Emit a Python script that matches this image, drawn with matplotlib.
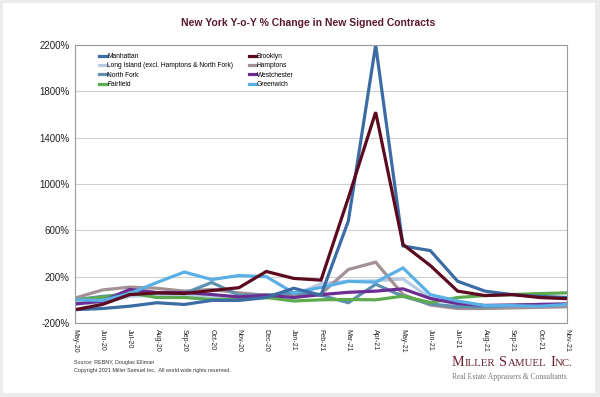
import matplotlib
matplotlib.use("Agg")
import matplotlib.pyplot as plt
from matplotlib.patches import Rectangle
from matplotlib.ticker import FuncFormatter

plt.rcParams['font.family'] = ['Liberation Sans', 'DejaVu Sans']

# months on the x axis
months = ['May-20', 'Jun-20', 'Jul-20', 'Aug-20', 'Sep-20', 'Oct-20', 'Nov-20',
          'Dec-20', 'Jan-21', 'Feb-21', 'Mar-21', 'Apr-21', 'May-21', 'Jun-21',
          'Jul-21', 'Aug-21', 'Sep-21', 'Oct-21', 'Nov-21']

# y-o-y % change
manhattan   = [-85, -75, -55, -25, -40, -5, -5, 20, 100, 40, 680, 2200, 465, 425, 160, 75, 45, 30, 20]
brooklyn    = [-85, -40, 45, 60, 55, 80, 105, 245, 185, 170, 880, 1620, 478, 296, 75, 37, 45, 20, 10]
long_island = [-40, -20, 30, 40, 40, 30, 30, 40, 40, 140, 160, 165, 180, 15, -40, -50, -45, -40, -40]
hamptons    = [15, 85, 110, 100, 75, 90, 60, 40, 30, 50, 262, 325, 46, -45, -75, -75, -70, -65, -60]
north_fork  = [0, 30, 50, 60, 55, 150, 40, 40, 60, 40, -25, 135, 30, -35, -60, -60, -50, -40, -40]
westchester = [-35, -12, 90, 63, 63, 46, 25, 40, 20, 45, 65, 75, 95, 12, -32, -48, -45, -40, -35]
fairfield   = [0, 20, 60, 20, 20, 3, 5, 20, -10, 0, 3, 0, 32, -23, 20, 37, 46, 54, 60]
greenwich   = [0, -5, 55, 150, 240, 175, 210, 200, 60, 107, 160, 152, 275, 45, -10, -50, -50, -55, -40]

series = [
    ('Manhattan', manhattan, '#3B6CA3'),
    ('Long Island (excl. Hamptons & North Fork)', long_island, '#B8CDE3'),
    ('North Fork', north_fork, '#5E90B0'),
    ('Fairfield', fairfield, '#5CAB4E'),
    ('Brooklyn', brooklyn, '#5C0A1F'),
    ('Hamptons', hamptons, '#A39194'),
    ('Westchester', westchester, '#6B2D92'),
    ('Greenwich', greenwich, '#5AB0E6'),
]
draw_order = [1, 5, 2, 3, 6, 7, 0, 4]

fig = plt.figure(figsize=(6, 3.97), dpi=100, facecolor='#EBEBEB')
card = Rectangle((3 / 600, 4 / 397), 592 / 600, 390 / 397,
                 transform=fig.transFigure, facecolor='white',
                 edgecolor='none', zorder=-10)
fig.patches.append(card)

ax = fig.add_axes([75 / 600, 1 - 323 / 397, 492 / 600, 278 / 397])
ax.set_facecolor('white')
ax.set_zorder(1)

x = list(range(len(months)))
handles = {}
for i in draw_order:
    name, vals, col = series[i]
    ln, = ax.plot(x, vals, color=col, lw=2.3, label=name, solid_joinstyle='miter')
    handles[i] = ln

ax.set_xlim(0, len(months) - 1)
ax.set_ylim(-200, 2200)
ax.set_yticks(range(-200, 2201, 400))
ax.yaxis.set_major_formatter(FuncFormatter(lambda v, p: '%d%%' % v))
ax.set_xticks(x)
ax.set_xticklabels(months, rotation=270, fontsize=5, color='#222222')
ax.tick_params(axis='y', labelsize=7, length=0, pad=4, labelcolor='#222222')
ax.tick_params(axis='x', length=0, pad=4)
ax.grid(axis='y', color='#CFCFCF', lw=0.8)
ax.set_axisbelow(True)
for s in ax.spines.values():
    s.set_color('#9A9A9A')
    s.set_linewidth(0.8)

leg = ax.legend([handles[i] for i in range(8)], [series[i][0] for i in range(8)],
                ncol=2, loc='upper left', bbox_to_anchor=(0.04, 0.988),
                frameon=False, fontsize=4.8, handlelength=1.1, handletextpad=0.1,
                columnspacing=2.3, labelspacing=0.35, borderaxespad=0.3)

fig.text(308 / 600, 1 - 23 / 397, 'New York Y-o-Y % Change in New Signed Contracts',
         ha='center', va='center', fontsize=7.5, fontweight='bold', color='#5B1A2C')

fig.text(74 / 600, 1 - 362.5 / 397, 'Source: REBNY, Douglas Elliman',
         fontsize=3.9, va='center', color='#333333')
fig.text(74 / 600, 1 - 370.5 / 397,
         'Copyright 2021 Miller Samuel Inc.  All world wide rights reserved.',
         fontsize=3.9, va='center', color='#333333')

# logo in small caps, built piece by piece
renderer = fig.canvas.get_renderer()
logo_parts = [('M', 10.2), ('ILLER', 7.8), (' ', 0), ('S', 10.2), ('AMUEL', 7.8),
              (' ', 0), ('I', 10.2), ('NC.', 7.8)]
xpos = 452
for txt, fs in logo_parts:
    if txt == ' ':
        xpos += 3.5
        continue
    t = fig.text(xpos / 600, 1 - 366 / 397, txt, ha='left', va='baseline',
                 fontsize=fs, family='Liberation Serif', color='#6B2232')
    xpos = t.get_window_extent(renderer).x1 + 0.3
fig.text(452 / 600, 1 - 377 / 397, 'Real Estate Appraisers & Consultants',
         ha='left', va='center', fontsize=5.5, family='Liberation Serif',
         color='#777777')

fig.savefig('out.png', dpi=100, facecolor=fig.get_facecolor())
